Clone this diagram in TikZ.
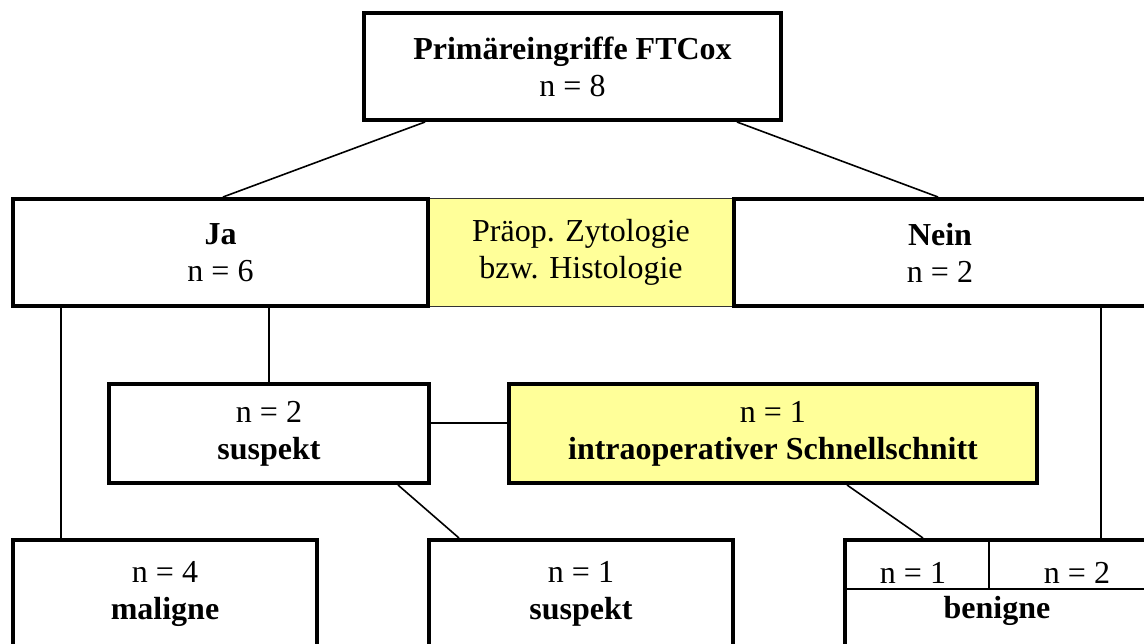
\documentclass[tikz,border=0pt]{standalone}
\usepackage{fontspec}
\setmainfont{Liberation Serif}
\definecolor{paleyellow}{RGB}{255,255,153}
\begin{document}
\begin{tikzpicture}[x=1pt,y=-1pt,
  txt/.style={font=\fontsize{32}{37}\selectfont},
  box/.style={txt, draw=black, line width=4pt, fill=white, align=center, inner sep=0pt},
  ybox/.style={box, fill=paleyellow},
  thinbox/.style={txt, draw=black!80, line width=1pt, fill=paleyellow, align=center, inner sep=0pt},
  conn/.style={draw=black, line width=1.6pt},
  divider/.style={draw=black, line width=1.6pt},
  lbl/.style={txt, inner sep=0pt}]
\clip (0,0) rectangle (1144,643);
\fill[white] (0,0) rectangle (1144,643);

% row 1
\node[box, minimum width=417pt, minimum height=107pt] (top) at (572.5,66.5)
  {\textbf{Primäreingriffe FTCox}\\n = 8};
% row 2
\node[thinbox, minimum width=306pt, minimum height=108pt] (praeop) at (581,252)
  {Präop. Zytologie\\bzw. Histologie};
\node[box, minimum width=415pt, minimum height=107pt] (ja) at (220.5,252.5)
  {\textbf{Ja}\\n = 6};
\node[box, minimum width=412pt, minimum height=107pt] (nein) at (940,252.5)
  {\textbf{Nein}\\n = 2};
% row 3
\node[box, minimum width=320pt, minimum height=99pt] (susm) at (269,433.5)
  {n = 2\\\textbf{suspekt}};
\node[ybox, minimum width=528pt, minimum height=99pt] (intra) at (773,433.5)
  {n = 1\\\textbf{intraoperativer Schnellschnitt}};
% row 4
\node[box, minimum width=304pt, minimum height=108pt] (mal) at (165,594)
  {n = 4\\\textbf{maligne}};
\node[box, minimum width=304pt, minimum height=108pt] (sus2) at (581,594)
  {n = 1\\\textbf{suspekt}};
\node[box, minimum width=304pt, minimum height=108pt] (ben) at (997,594) {};
\draw[divider] (845,589) -- (1149,589);
\draw[divider] (989,540) -- (989,589);
\node[lbl] (ben1) at (913,573) {n = 1};
\node[lbl] (ben2) at (1077,573) {n = 2};
\node[lbl] (benl) at (997,611) {\textbf{benigne}};

% connectors
\draw[conn] ([xshift=-147.5pt]top.south) -- ([xshift=2.5pt]ja.north);
\draw[conn] ([xshift=164.5pt]top.south) -- ([xshift=-2pt]nein.north);
\draw[conn] ([xshift=48.5pt]ja.south) -- (susm.north);
\draw[conn] ([xshift=-159.5pt]ja.south) -- ([xshift=-104pt]mal.north);
\draw[conn] ([xshift=161pt]nein.south) -- ([xshift=104pt]ben.north);
\draw[conn] ([yshift=10.5pt]susm.east) -- ([yshift=10.5pt]intra.west);
\draw[conn] ([xshift=129pt]susm.south) -- ([xshift=-122pt]sus2.north);
\draw[conn] ([xshift=74pt]intra.south) -- ([xshift=-74pt]ben.north);
\end{tikzpicture}
\end{document}
